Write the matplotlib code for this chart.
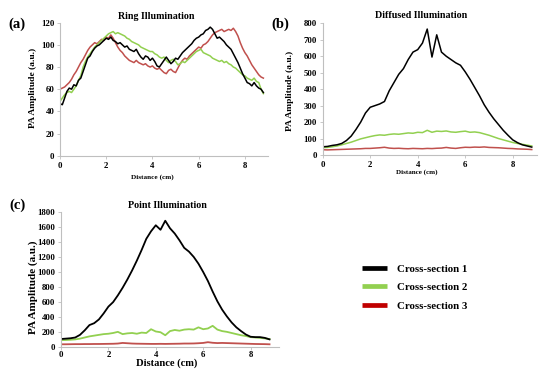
import numpy as np
import matplotlib
matplotlib.use("Agg")
import matplotlib.pyplot as plt
from matplotlib.lines import Line2D

plt.rcParams["font.family"] = ["Liberation Serif", "DejaVu Serif"]
plt.rcParams["font.weight"] = "bold"

W, H = 550, 373

# ---------------------------------------------------------------- data
# (a) Ring illumination, sampled every 0.1 cm
dist_a = np.round(np.arange(0, 8.81, 0.1), 1)
ring_1 = [47, 46, 52, 58, 61, 60, 64, 63, 68, 70,
          76, 82, 88, 90, 94, 97, 99, 100, 102, 104,
          106, 105, 107, 104, 103, 101, 102, 100, 98, 99,
          96, 95, 94, 96, 92, 89, 87, 90, 89, 86,
          88, 85, 81, 80, 83, 86, 89, 86, 83, 85,
          88, 87, 90, 93, 95, 97, 99, 101, 104, 106,
          107, 109, 110, 113, 114, 116, 114, 110, 106, 107,
          105, 103, 100, 98, 96, 92, 88, 84, 79, 74,
          70, 66, 65, 63, 66, 63, 61, 60, 57]
ring_2 = [49, 52, 55, 57, 58, 57, 60, 63, 68, 72,
          80, 85, 89, 92, 95, 98, 100, 102, 104, 106,
          108, 110, 111, 112, 110, 111, 110, 109, 108, 106,
          105, 103, 102, 101, 100, 98, 97, 96, 95, 94,
          94, 92, 91, 89, 88, 89, 86, 84, 86, 87,
          85, 82, 83, 85, 84, 86, 88, 90, 92, 94,
          95, 96, 93, 92, 91, 90, 88, 87, 86, 85,
          86, 84, 85, 83, 82, 80, 79, 77, 75, 73,
          72, 70, 69, 68, 70, 67, 66, 60, 56]
ring_3 = [60, 61, 62, 64, 66, 69, 73, 76, 80, 84,
          87, 91, 95, 98, 100, 102, 101, 103, 105, 104,
          107, 106, 109, 106, 102, 98, 95, 93, 90, 88,
          86, 85, 84, 86, 84, 83, 82, 83, 81, 80,
          81, 79, 78, 79, 77, 75, 74, 77, 78, 76,
          75, 79, 83, 86, 88, 87, 90, 92, 94, 96,
          98, 97, 100, 101, 103, 106, 109, 111, 112, 113,
          114, 112, 113, 114, 113, 115, 112, 108, 102, 97,
          93, 90, 86, 82, 79, 76, 73, 71, 70]

# (b) Diffused illumination, sampled every 0.2 cm
dist_bc = np.round(np.arange(0, 8.81, 0.2), 1)
diff_1 = [50, 52, 58, 62, 70, 88, 115, 155, 200, 255,
          290, 300, 310, 325, 390, 440, 490, 525, 580, 625,
          640, 680, 765, 595, 730, 625, 600, 580, 560, 545,
          505, 460, 410, 360, 305, 260, 220, 185, 150, 120,
          92, 75, 62, 55, 48]
diff_2 = [45, 46, 50, 55, 62, 70, 78, 88, 98, 105,
          112, 118, 122, 120, 125, 128, 126, 130, 134, 132,
          138, 136, 150, 138, 145, 143, 146, 140, 138, 142,
          145, 138, 140, 136, 128, 120, 110, 100, 92, 84,
          76, 70, 65, 60, 55]
diff_3 = [32, 31, 32, 33, 34, 35, 36, 37, 38, 40,
          40, 42, 44, 47, 42, 40, 41, 39, 38, 40,
          39, 38, 40, 39, 41, 42, 46, 42, 40, 44,
          47, 46, 48, 47, 49, 46, 45, 44, 42, 40,
          39, 37, 36, 35, 33]

# (c) Point illumination, sampled every 0.2 cm
point_1 = [110, 115, 120, 130, 165, 225, 295, 320, 370, 450,
           540, 600, 690, 790, 900, 1020, 1150, 1290, 1440, 1540,
           1620, 1560, 1680, 1580, 1510, 1420, 1320, 1270, 1200, 1110,
           1000, 880, 740, 610, 500, 410, 330, 265, 215, 170,
           140, 135, 135, 125, 105]
point_2 = [95, 97, 100, 105, 115, 130, 145, 155, 165, 175,
           180, 190, 205, 175, 185, 190, 180, 195, 190, 240,
           210, 200, 160, 215, 230, 220, 235, 240, 235, 265,
           240, 250, 285, 235, 215, 205, 190, 175, 160, 150,
           135, 130, 125, 118, 110]
point_3 = [40, 40, 41, 42, 42, 43, 43, 44, 44, 45,
           46, 47, 50, 58, 54, 50, 48, 47, 46, 45,
           45, 46, 45, 46, 47, 48, 50, 50, 51, 54,
           58, 68, 60, 56, 58, 56, 54, 52, 50, 48,
           46, 44, 43, 42, 40]

series_names = ["Cross-section 1", "Cross-section 2", "Cross-section 3"]
line_colors = ["black", "#92D050", "#C0504D"]
legend_colors = ["black", "#92D050", "#C00000"]

# ---------------------------------------------------------------- layout
fig = plt.figure(figsize=(W / 100, H / 100), dpi=100)


def add_ax(left, top, right, bottom):
    return fig.add_axes([left / W, 1 - bottom / H, (right - left) / W, (bottom - top) / H])


def ftext(x, y, s, **kw):
    fig.text(x / W, 1 - y / H, s, ha="center", va="center", fontweight="bold", **kw)


def style(ax, xmax, ymax, ystep, xpad):
    ax.set_xlim(0, xmax)
    ax.set_ylim(0, ymax)
    ax.set_xticks([0, 2, 4, 6, 8])
    ax.set_yticks(np.arange(0, ymax + 1, ystep))
    for s in ("top", "right"):
        ax.spines[s].set_visible(False)
    for s in ("left", "bottom"):
        ax.spines[s].set_color("#BFBFBF")
        ax.spines[s].set_linewidth(0.8)
    ax.tick_params(axis="both", length=2, width=0.6, color="#BFBFBF", labelsize=6.3)
    ax.tick_params(axis="y", pad=2)
    ax.tick_params(axis="x", pad=xpad)
    for lab in ax.get_xticklabels() + ax.get_yticklabels():
        lab.set_fontweight("bold")


panels = [
    (add_ax(60, 22.7, 268, 155.7), dist_a, [ring_1, ring_2, ring_3], 9.0, 120, 20, 2.5, 1.1),
    (add_ax(322.7, 23.3, 536.5, 155), dist_bc, [diff_1, diff_2, diff_3], 9.0, 800, 100, 2.0, 1.1),
    (add_ax(61, 211.7, 279, 347.3), dist_bc, [point_1, point_2, point_3], 9.2, 1800, 200, 0.6, 1.3),
]

for ax, xs, ys_list, xmax, ymax, ystep, xpad, lw in panels:
    for ys, col, name in zip(ys_list[::-1], line_colors[::-1], series_names[::-1]):
        ax.plot(xs, ys, color=col, lw=lw, label=name)
    style(ax, xmax, ymax, ystep, xpad)

# titles, panel letters, axis labels
ftext(156.7, 16.5, "Ring Illumination", fontsize=7.2)
ftext(421.3, 16.0, "Diffused Illumination", fontsize=7.2)
ftext(167, 206, "Point Illumination", fontsize=7.2)

ftext(16.5, 24, "(a)", fontsize=10.5)
ftext(280.5, 24, "(b)", fontsize=10.5)
ftext(17, 205, "(c)", fontsize=10.5)

ftext(33.3, 87.5, "PA Amplitude (a.u.)", fontsize=6.8, rotation=90)
ftext(290, 90.8, "PA Amplitude (a.u.)", fontsize=6.8, rotation=90)
ftext(33.3, 287.5, "PA Amplitude (a.u.)", fontsize=8.0, rotation=90)

ftext(152.5, 177.5, "Distance (cm)", fontsize=5.2)
ftext(417, 171.7, "Distance (cm)", fontsize=5.0)
ftext(167, 363.5, "Distance (cm)", fontsize=7.6)

# legend
handles = [Line2D([], [], color=c, lw=3.4, solid_capstyle="butt") for c in legend_colors]
leg = fig.legend(handles, series_names, loc="center left",
                 bbox_to_anchor=(362 / W, 1 - 287.5 / H),
                 frameon=False, fontsize=7.8, handlelength=2.3, handletextpad=0.9,
                 labelspacing=0.8, borderpad=0, borderaxespad=0)
for t in leg.get_texts():
    t.set_fontweight("bold")

fig.savefig("out.png", dpi=100)
